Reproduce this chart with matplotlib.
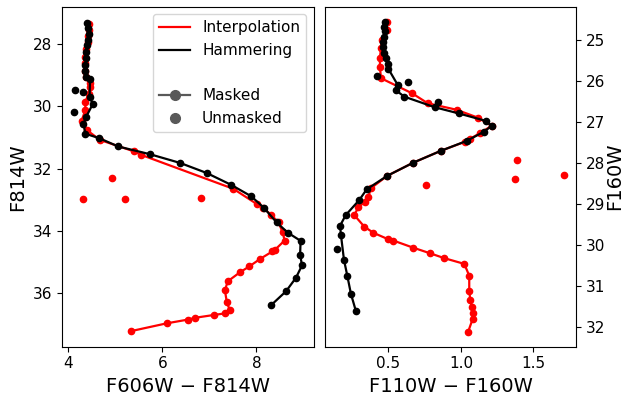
import matplotlib.pyplot as plt
from matplotlib.lines import Line2D

# left panel: F606W-F814W vs F814W
interp_l_x = [4.43, 4.43, 4.42, 4.41, 4.38, 4.35, 4.35, 4.36, 4.38, 4.45, 4.45, 4.43, 4.36, 4.36,
              4.28, 4.39, 4.67, 5.40, 5.55, 7.51, 8.01, 8.15, 8.31, 8.47, 8.56, 8.60, 8.40, 8.34,
              8.08, 7.85, 7.65, 7.39, 7.33, 7.37, 7.43, 7.33, 7.10, 6.70, 6.54, 6.09, 5.33]
interp_l_y = [27.37, 27.55, 27.75, 27.95, 28.15, 28.40, 28.62, 28.85, 29.05, 29.26, 29.39, 29.60, 29.85, 30.12,
              30.46, 30.76, 31.08, 31.45, 31.56, 32.65, 33.14, 33.27, 33.48, 33.73, 34.05, 34.31, 34.60, 34.66,
              34.90, 35.14, 35.33, 35.62, 35.91, 36.29, 36.53, 36.65, 36.70, 36.79, 36.85, 36.97, 37.22]
interp_l_free_x = [4.92, 4.30, 5.21, 6.82]
interp_l_free_y = [32.30, 32.97, 32.97, 32.93]

hammer_l_x = [4.40, 4.42, 4.43, 4.42, 4.39, 4.37, 4.38, 4.36, 4.36, 4.38, 4.46, 4.45, 4.52, 4.38,
              4.32, 4.36, 4.65, 5.06, 5.74, 6.38, 6.94, 7.46, 7.89, 8.16, 8.43, 8.67, 8.94, 8.93,
              8.97, 8.84, 8.63, 8.31]
hammer_l_y = [27.32, 27.50, 27.69, 27.87, 28.03, 28.25, 28.46, 28.67, 28.87, 29.05, 29.13, 29.71, 29.92, 30.33,
              30.56, 30.88, 31.02, 31.29, 31.54, 31.82, 32.14, 32.52, 32.89, 33.26, 33.73, 34.06, 34.32, 34.76,
              35.11, 35.51, 35.94, 36.39]
hammer_l_free_x = [4.14, 4.30, 4.11]
hammer_l_free_y = [29.47, 29.53, 30.17]

# right panel: F110W-F160W vs F160W
interp_r_x = [0.492, 0.487, 0.453, 0.448, 0.441, 0.441, 0.448, 0.664, 0.770, 0.970, 1.115, 1.212, 1.131,
              1.062, 1.028, 0.862, 0.671, 0.492, 0.380, 0.361, 0.338, 0.292, 0.264, 0.333, 0.395, 0.499,
              0.533, 0.667, 0.786, 0.885, 1.023, 1.057, 1.057, 1.064, 1.074, 1.081, 1.081, 1.050]
interp_r_y = [24.58, 24.77, 25.01, 25.21, 25.44, 25.66, 25.94, 26.31, 26.55, 26.71, 26.90, 27.10, 27.28,
              27.42, 27.49, 27.71, 28.00, 28.32, 28.62, 28.83, 28.95, 29.09, 29.28, 29.56, 29.71, 29.87,
              29.90, 30.07, 30.21, 30.33, 30.47, 30.76, 31.12, 31.35, 31.51, 31.67, 31.81, 32.12]
interp_r_free_x = [0.759, 1.384, 1.372, 1.710]
interp_r_free_y = [28.54, 27.93, 28.40, 28.30]

hammer_r_x = [0.476, 0.471, 0.476, 0.471, 0.464, 0.462, 0.469, 0.481, 0.494, 0.499, 0.563, 0.550, 0.609,
              0.821, 0.986, 1.170, 1.212, 1.161, 1.039, 0.862, 0.671, 0.492, 0.350, 0.299, 0.205, 0.166,
              0.172, 0.193, 0.216, 0.241, 0.276]
hammer_r_y = [24.58, 24.68, 24.80, 24.93, 25.05, 25.17, 25.33, 25.45, 25.60, 25.71, 26.10, 26.23, 26.39,
              26.65, 26.80, 26.98, 27.10, 27.24, 27.47, 27.71, 28.00, 28.32, 28.65, 28.91, 29.28, 29.54,
              29.76, 30.37, 30.76, 31.20, 31.63]
hammer_r_free_x = [0.421, 0.637, 0.843, 0.143]
hammer_r_free_y = [25.88, 26.03, 26.51, 30.11]

fig = plt.figure(figsize=(6.27, 3.96), dpi=100)
ax1 = fig.add_axes([0.0994, 0.1245, 0.401, 0.8586])
ax2 = fig.add_axes([0.5183, 0.1245, 0.4003, 0.8586])

ms = 4.5
lw = 1.6

for ax, ix, iy, ifx, ify, hx, hy, hfx, hfy in [
        (ax1, interp_l_x, interp_l_y, interp_l_free_x, interp_l_free_y,
         hammer_l_x, hammer_l_y, hammer_l_free_x, hammer_l_free_y),
        (ax2, interp_r_x, interp_r_y, interp_r_free_x, interp_r_free_y,
         hammer_r_x, hammer_r_y, hammer_r_free_x, hammer_r_free_y)]:
    ax.plot(ix, iy, color='red', marker='o', ms=ms, lw=lw)
    ax.plot(ifx, ify, color='red', marker='o', ms=ms, ls='none')
    ax.plot(hx, hy, color='black', marker='o', ms=ms, lw=lw)
    ax.plot(hfx, hfy, color='black', marker='o', ms=ms, ls='none')
    ax.tick_params(labelsize=11)

ax1.set_xlim(3.87, 9.22)
ax1.set_ylim(37.72, 26.80)
ax1.set_xticks([4, 6, 8])
ax1.set_yticks([28, 30, 32, 34, 36])
ax1.set_xlabel('F606W − F814W', fontsize=14)
ax1.set_ylabel('F814W', fontsize=14)

ax2.set_xlim(0.062, 1.793)
ax2.set_ylim(32.49, 24.195)
ax2.set_xticks([0.5, 1.0, 1.5])
ax2.set_yticks([25, 26, 27, 28, 29, 30, 31, 32])
ax2.yaxis.tick_right()
ax2.yaxis.set_label_position('right')
ax2.set_xlabel('F110W − F160W', fontsize=14)
ax2.set_ylabel('F160W', fontsize=14, labelpad=0)

gray = '0.35'
handles = [Line2D([], [], color='red', lw=lw),
           Line2D([], [], color='black', lw=lw),
           Line2D([], [], color='none'),
           Line2D([], [], color=gray, lw=lw, marker='o', ms=7),
           Line2D([], [], color=gray, ls='none', marker='o', ms=7)]
labels = ['Interpolation', 'Hammering', ' ', 'Masked', 'Unmasked']
ax1.legend(handles, labels, loc='upper right', fontsize=11)

fig.savefig('out.png', dpi=100)
